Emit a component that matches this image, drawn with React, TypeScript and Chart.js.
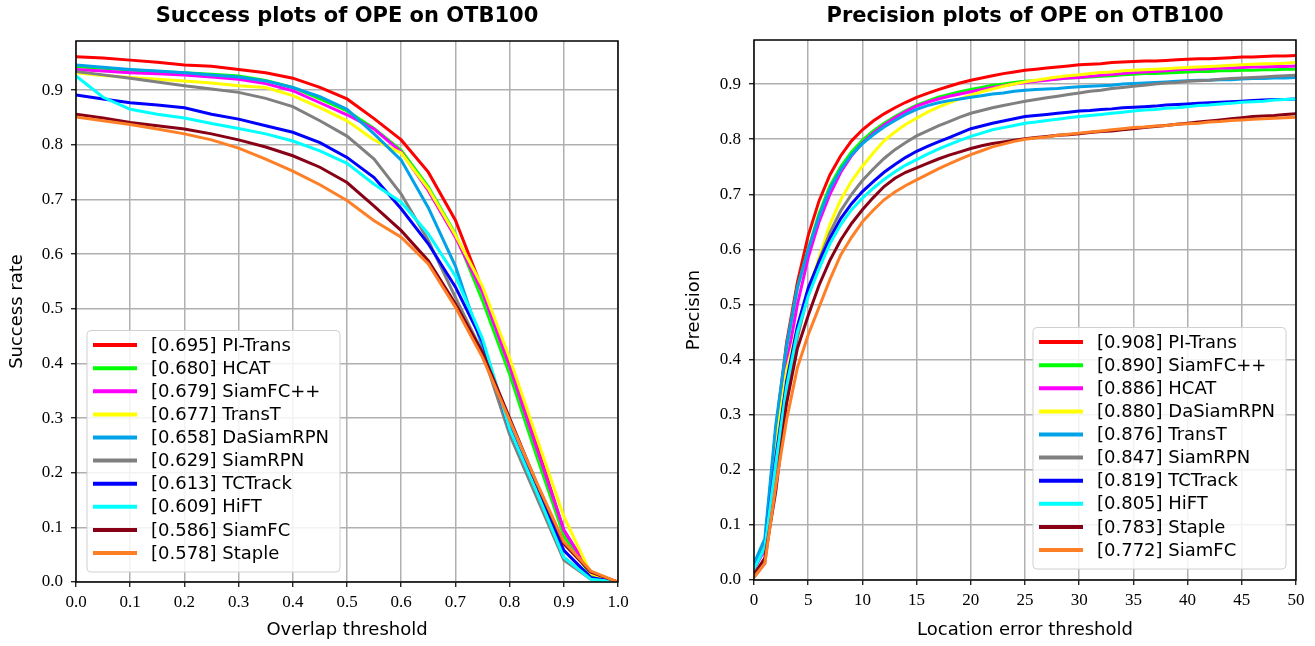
import React, { useEffect, useRef } from 'react';
import { Chart, registerables } from 'chart.js';

Chart.register(...registerables);

// ---------- shared ----------
const lineColors = ['#ff0000', '#00ff00', '#ff00ff', '#ffff00', '#00a2e8', '#808080', '#0000ff', '#00ffff', '#880015', '#ff7f27'];

// ---------- success plot ----------
const successThresholds = [0, 0.05, 0.1, 0.15, 0.2, 0.25, 0.3, 0.35, 0.4, 0.45, 0.5, 0.55, 0.6, 0.65, 0.7, 0.75, 0.8, 0.85, 0.9, 0.95, 1.0];
const successLabels = ['[0.695] PI-Trans', '[0.680] HCAT', '[0.679] SiamFC++', '[0.677] TransT', '[0.658] DaSiamRPN', '[0.629] SiamRPN', '[0.613] TCTrack', '[0.609] HiFT', '[0.586] SiamFC', '[0.578] Staple'];
const succPITrans = [0.961, 0.959, 0.955, 0.951, 0.946, 0.944, 0.938, 0.932, 0.922, 0.905, 0.884, 0.848, 0.809, 0.750, 0.662, 0.535, 0.400, 0.250, 0.095, 0.015, 0.0];
const succHCAT = [0.943, 0.940, 0.937, 0.934, 0.932, 0.929, 0.926, 0.918, 0.905, 0.884, 0.862, 0.830, 0.790, 0.723, 0.637, 0.515, 0.380, 0.230, 0.085, 0.012, 0.0];
const succSiamFCpp = [0.938, 0.935, 0.932, 0.930, 0.928, 0.924, 0.920, 0.912, 0.899, 0.877, 0.855, 0.829, 0.787, 0.716, 0.631, 0.530, 0.395, 0.245, 0.095, 0.015, 0.0];
const succTransT = [0.932, 0.927, 0.923, 0.920, 0.917, 0.913, 0.908, 0.905, 0.890, 0.868, 0.844, 0.809, 0.785, 0.720, 0.635, 0.541, 0.410, 0.264, 0.120, 0.015, 0.0];
const succDaSiamRPN = [0.946, 0.942, 0.938, 0.935, 0.932, 0.928, 0.924, 0.917, 0.905, 0.888, 0.865, 0.820, 0.772, 0.685, 0.578, 0.430, 0.285, 0.160, 0.045, 0.006, 0.0];
const succSiamRPN = [0.934, 0.928, 0.922, 0.915, 0.908, 0.902, 0.896, 0.885, 0.870, 0.844, 0.816, 0.774, 0.710, 0.625, 0.521, 0.420, 0.270, 0.155, 0.040, 0.005, 0.0];
const succTCTrack = [0.891, 0.884, 0.877, 0.873, 0.868, 0.856, 0.847, 0.835, 0.823, 0.804, 0.777, 0.740, 0.683, 0.619, 0.540, 0.440, 0.280, 0.170, 0.058, 0.008, 0.0];
const succHiFT = [0.926, 0.887, 0.865, 0.856, 0.849, 0.839, 0.830, 0.820, 0.807, 0.789, 0.766, 0.728, 0.695, 0.637, 0.560, 0.445, 0.280, 0.165, 0.045, 0.005, 0.0];
const succSiamFC = [0.856, 0.849, 0.841, 0.835, 0.829, 0.820, 0.809, 0.796, 0.780, 0.759, 0.731, 0.688, 0.643, 0.588, 0.509, 0.420, 0.300, 0.180, 0.070, 0.018, 0.0];
const succStaple = [0.851, 0.844, 0.837, 0.829, 0.820, 0.809, 0.794, 0.774, 0.752, 0.727, 0.698, 0.661, 0.631, 0.582, 0.503, 0.411, 0.296, 0.182, 0.074, 0.020, 0.0];

// ---------- precision plot ----------
const precisionThresholds = [0, 1, 2, 3, 4, 5, 6, 7, 8, 9, 10, 11, 12, 13, 14, 15, 16, 17, 18, 19, 20, 21, 22, 23, 24, 25, 26, 27, 28, 29, 30, 31, 32, 33, 34, 35, 36, 37, 38, 39, 40, 41, 42, 43, 44, 45, 46, 47, 48, 49, 50];
const precisionLabels = ['[0.908] PI-Trans', '[0.890] SiamFC++', '[0.886] HCAT', '[0.880] DaSiamRPN', '[0.876] TransT', '[0.847] SiamRPN', '[0.819] TCTrack', '[0.805] HiFT', '[0.783] Staple', '[0.772] SiamFC'];
const precPITrans = [0.025, 0.065, 0.27, 0.43, 0.54, 0.625, 0.688, 0.735, 0.77, 0.797, 0.817, 0.833, 0.846, 0.857, 0.867, 0.876, 0.883, 0.89, 0.896, 0.902, 0.907, 0.911, 0.915, 0.919, 0.922, 0.925, 0.927, 0.929, 0.931, 0.933, 0.935, 0.936, 0.937, 0.939, 0.940, 0.941, 0.942, 0.942, 0.943, 0.944, 0.945, 0.946, 0.946, 0.947, 0.948, 0.949, 0.949, 0.950, 0.951, 0.951, 0.952];
const precSiamFCpp = [0.025, 0.065, 0.27, 0.42, 0.53, 0.60, 0.665, 0.715, 0.75, 0.777, 0.798, 0.815, 0.829, 0.841, 0.852, 0.862, 0.869, 0.876, 0.881, 0.886, 0.890, 0.894, 0.898, 0.900, 0.903, 0.905, 0.906, 0.908, 0.909, 0.911, 0.912, 0.913, 0.914, 0.915, 0.917, 0.918, 0.919, 0.919, 0.920, 0.921, 0.922, 0.923, 0.923, 0.924, 0.924, 0.925, 0.925, 0.926, 0.926, 0.927, 0.927];
const precHCAT = [0.02, 0.055, 0.24, 0.39, 0.50, 0.585, 0.65, 0.70, 0.74, 0.77, 0.793, 0.811, 0.826, 0.839, 0.850, 0.860, 0.867, 0.873, 0.878, 0.882, 0.886, 0.890, 0.894, 0.897, 0.900, 0.903, 0.905, 0.907, 0.909, 0.911, 0.912, 0.914, 0.916, 0.918, 0.919, 0.921, 0.922, 0.923, 0.924, 0.926, 0.927, 0.927, 0.928, 0.929, 0.929, 0.930, 0.931, 0.931, 0.932, 0.932, 0.933];
const precDaSiamRPN = [0.02, 0.06, 0.25, 0.38, 0.46, 0.525, 0.585, 0.645, 0.69, 0.724, 0.751, 0.775, 0.797, 0.813, 0.827, 0.838, 0.849, 0.858, 0.866, 0.873, 0.880, 0.886, 0.891, 0.896, 0.900, 0.904, 0.907, 0.910, 0.913, 0.915, 0.917, 0.919, 0.921, 0.922, 0.924, 0.925, 0.926, 0.927, 0.928, 0.929, 0.930, 0.931, 0.932, 0.933, 0.934, 0.935, 0.936, 0.937, 0.937, 0.938, 0.939];
const precTransT = [0.03, 0.075, 0.28, 0.425, 0.53, 0.60, 0.66, 0.71, 0.745, 0.772, 0.792, 0.808, 0.822, 0.834, 0.845, 0.854, 0.861, 0.866, 0.870, 0.873, 0.876, 0.879, 0.882, 0.884, 0.887, 0.889, 0.890, 0.891, 0.892, 0.894, 0.895, 0.896, 0.897, 0.898, 0.900, 0.901, 0.902, 0.903, 0.904, 0.905, 0.906, 0.907, 0.907, 0.908, 0.908, 0.909, 0.910, 0.910, 0.911, 0.911, 0.912];
const precSiamRPN = [0.005, 0.03, 0.19, 0.33, 0.44, 0.52, 0.58, 0.63, 0.67, 0.70, 0.725, 0.746, 0.765, 0.781, 0.794, 0.806, 0.815, 0.824, 0.832, 0.840, 0.847, 0.852, 0.857, 0.861, 0.865, 0.869, 0.872, 0.875, 0.878, 0.881, 0.884, 0.887, 0.889, 0.892, 0.894, 0.896, 0.898, 0.900, 0.902, 0.903, 0.905, 0.906, 0.907, 0.909, 0.910, 0.911, 0.912, 0.913, 0.914, 0.915, 0.916];
const precTCTrack = [0.02, 0.06, 0.22, 0.36, 0.46, 0.53, 0.578, 0.62, 0.656, 0.683, 0.705, 0.723, 0.74, 0.754, 0.767, 0.778, 0.787, 0.795, 0.803, 0.811, 0.819, 0.824, 0.829, 0.833, 0.837, 0.841, 0.843, 0.845, 0.847, 0.849, 0.851, 0.852, 0.854, 0.855, 0.857, 0.858, 0.859, 0.860, 0.862, 0.863, 0.864, 0.865, 0.866, 0.867, 0.868, 0.869, 0.870, 0.871, 0.872, 0.872, 0.873];
const precHiFT = [0.02, 0.06, 0.21, 0.35, 0.45, 0.515, 0.565, 0.61, 0.645, 0.672, 0.693, 0.711, 0.727, 0.741, 0.753, 0.763, 0.773, 0.782, 0.790, 0.798, 0.805, 0.811, 0.817, 0.821, 0.825, 0.829, 0.831, 0.834, 0.836, 0.839, 0.841, 0.843, 0.845, 0.847, 0.849, 0.851, 0.853, 0.854, 0.856, 0.857, 0.859, 0.861, 0.862, 0.864, 0.865, 0.867, 0.868, 0.869, 0.871, 0.872, 0.873];
const precStaple = [0.01, 0.04, 0.16, 0.32, 0.42, 0.48, 0.535, 0.58, 0.617, 0.647, 0.672, 0.694, 0.714, 0.729, 0.740, 0.748, 0.756, 0.764, 0.771, 0.777, 0.783, 0.788, 0.792, 0.795, 0.798, 0.801, 0.803, 0.805, 0.807, 0.808, 0.810, 0.812, 0.814, 0.815, 0.817, 0.819, 0.821, 0.823, 0.825, 0.827, 0.829, 0.831, 0.833, 0.835, 0.837, 0.839, 0.841, 0.842, 0.843, 0.845, 0.846];
const precSiamFC = [0.005, 0.03, 0.17, 0.29, 0.385, 0.445, 0.495, 0.545, 0.59, 0.622, 0.65, 0.671, 0.69, 0.704, 0.716, 0.726, 0.736, 0.746, 0.755, 0.764, 0.772, 0.779, 0.786, 0.791, 0.796, 0.800, 0.802, 0.804, 0.807, 0.809, 0.811, 0.813, 0.815, 0.817, 0.819, 0.821, 0.822, 0.824, 0.825, 0.827, 0.828, 0.829, 0.831, 0.832, 0.834, 0.835, 0.836, 0.837, 0.838, 0.839, 0.840];

const successSeries = [succPITrans, succHCAT, succSiamFCpp, succTransT, succDaSiamRPN, succSiamRPN, succTCTrack, succHiFT, succSiamFC, succStaple];
const precisionSeries = [precPITrans, precSiamFCpp, precHCAT, precDaSiamRPN, precTransT, precSiamRPN, precTCTrack, precHiFT, precStaple, precSiamFC];

const SANS = '"DejaVu Sans", sans-serif';
const SERIF = '"Liberation Serif", serif';

const framePlugin = {
  id: 'frame',
  afterDatasetsDraw(chart: any) {
    const { ctx, chartArea: a } = chart;
    ctx.save();
    ctx.strokeStyle = '#000';
    ctx.lineWidth = 1.5;
    ctx.strokeRect(a.left, a.top, a.right - a.left, a.bottom - a.top);
    ctx.restore();
  },
};

const insideLegendPlugin = {
  id: 'insideLegend',
  afterDraw(chart: any, _args: any, opts: any) {
    const { ctx, chartArea } = chart;
    const ds = chart.data.datasets;
    ctx.save();
    ctx.font = `18px ${SANS}`;
    const textW = Math.max(...ds.map((d: any) => ctx.measureText(d.label).width));
    const rowH = 23.1;
    const padTop = 14.6;
    const padBottom = 19;
    const textOffset = 64;
    const boxW = textOffset + textW + 11;
    const boxH = padTop + rowH * (ds.length - 1) + padBottom;
    const x0 = opts.corner === 'left' ? chartArea.left + opts.margin : chartArea.right - opts.margin - boxW;
    const y0 = chartArea.bottom - opts.marginBottom - boxH;
    const r = 4;
    ctx.beginPath();
    ctx.moveTo(x0 + r, y0);
    ctx.lineTo(x0 + boxW - r, y0);
    ctx.arcTo(x0 + boxW, y0, x0 + boxW, y0 + r, r);
    ctx.lineTo(x0 + boxW, y0 + boxH - r);
    ctx.arcTo(x0 + boxW, y0 + boxH, x0 + boxW - r, y0 + boxH, r);
    ctx.lineTo(x0 + r, y0 + boxH);
    ctx.arcTo(x0, y0 + boxH, x0, y0 + boxH - r, r);
    ctx.lineTo(x0, y0 + r);
    ctx.arcTo(x0, y0, x0 + r, y0, r);
    ctx.closePath();
    ctx.fillStyle = 'rgba(255,255,255,0.85)';
    ctx.fill();
    ctx.strokeStyle = '#d0d0d0';
    ctx.lineWidth = 1;
    ctx.stroke();
    ds.forEach((d: any, i: number) => {
      const cy = y0 + padTop + i * rowH;
      ctx.beginPath();
      ctx.moveTo(x0 + 6, cy);
      ctx.lineTo(x0 + 50, cy);
      ctx.strokeStyle = d.borderColor;
      ctx.lineWidth = 4;
      ctx.stroke();
      ctx.fillStyle = '#000';
      ctx.textBaseline = 'middle';
      ctx.textAlign = 'left';
      ctx.fillText(d.label, x0 + textOffset, cy + 1);
    });
    ctx.restore();
  },
};

type PanelProps = {
  width: number;
  height: number;
  title: string;
  titleBottomPad: number;
  xTitle: string;
  yTitle: string;
  yTitlePad: number;
  xs: number[];
  series: number[][];
  labels: string[];
  xMax: number;
  xStep: number;
  xDecimals: number;
  yMax: number;
  yAxisWidth: number;
  xAxisHeight: number;
  padRight: number;
  legendCorner: 'left' | 'right';
  legendMargin: number;
  legendMarginBottom: number;
};

function Panel(p: PanelProps) {
  const ref = useRef<HTMLCanvasElement | null>(null);
  useEffect(() => {
    if (!ref.current) return;
    const n = p.series.length;
    const chart = new Chart(ref.current, {
      type: 'line',
      data: {
        datasets: p.series.map((s, i) => ({
          label: p.labels[i],
          data: p.xs.map((x, j) => ({ x, y: s[j] })),
          borderColor: lineColors[i],
          backgroundColor: lineColors[i],
          borderWidth: 3,
          pointRadius: 0,
          tension: 0,
          fill: false,
          order: n - 1 - i,
        })),
      },
      options: {
        animation: false,
        responsive: false,
        maintainAspectRatio: false,
        devicePixelRatio: 1,
        events: [],
        layout: { padding: { left: 0, right: p.padRight, top: 0, bottom: 0 } },
        plugins: {
          legend: { display: false },
          tooltip: { enabled: false },
          title: {
            display: true,
            text: p.title,
            fullSize: false,
            color: '#000',
            font: { family: SANS, size: 21, weight: 'bold', lineHeight: 1.2 },
            padding: { top: 4, bottom: p.titleBottomPad },
          },
          insideLegend: {
            corner: p.legendCorner,
            margin: p.legendMargin,
            marginBottom: p.legendMarginBottom,
          },
        } as any,
        scales: {
          x: {
            type: 'linear',
            min: 0,
            max: p.xMax,
            afterFit: (scale: any) => {
              scale.height = p.xAxisHeight;
            },
            ticks: {
              stepSize: p.xStep,
              autoSkip: false,
              maxRotation: 0,
              padding: 5,
              color: '#000',
              font: { family: SERIF, size: 17 },
              callback: (v: any) => Number(v).toFixed(p.xDecimals),
            },
            grid: {
              color: '#b0b0b0',
              lineWidth: 1.5,
              drawTicks: true,
              tickLength: 5,
              tickColor: '#000',
              tickWidth: 1.2,
            },
            border: { display: false },
            title: {
              display: true,
              text: p.xTitle,
              color: '#000',
              font: { family: SANS, size: 18, lineHeight: 1.2 },
              padding: { top: 0, bottom: 5 },
            },
          },
          y: {
            type: 'linear',
            min: 0,
            max: p.yMax,
            afterFit: (scale: any) => {
              scale.width = p.yAxisWidth;
            },
            ticks: {
              stepSize: 0.1,
              includeBounds: false,
              autoSkip: false,
              padding: 8,
              color: '#000',
              font: { family: SERIF, size: 17 },
              callback: (v: any) => Number(v).toFixed(1),
            },
            grid: {
              color: '#b0b0b0',
              lineWidth: 1.5,
              drawTicks: true,
              tickLength: 5,
              tickColor: '#000',
              tickWidth: 1.2,
            },
            border: { display: false },
            title: {
              display: true,
              text: p.yTitle,
              color: '#000',
              font: { family: SANS, size: 18, lineHeight: 1.2 },
              padding: { top: p.yTitlePad, bottom: 0 },
            },
          },
        },
      } as any,
      plugins: [framePlugin, insideLegendPlugin],
    });
    return () => chart.destroy();
  }, []);
  return <canvas ref={ref} width={p.width} height={p.height} style={{ display: 'block', width: p.width, height: p.height }} />;
}

export default function App() {
  return (
    <div style={{ position: 'fixed', left: 0, top: 0, width: 1315, height: 646, background: '#fff', display: 'flex' }}>
      <Panel
        width={657}
        height={646}
        title="Success plots of OPE on OTB100"
        titleBottomPad={11.8}
        xTitle="Overlap threshold"
        yTitle="Success rate"
        yTitlePad={7}
        xs={successThresholds}
        series={successSeries}
        labels={successLabels}
        xMax={1}
        xStep={0.1}
        xDecimals={1}
        yMax={0.99}
        yAxisWidth={76}
        xAxisHeight={64}
        padRight={39}
        legendCorner="left"
        legendMargin={11}
        legendMarginBottom={10}
      />
      <Panel
        width={658}
        height={646}
        title="Precision plots of OPE on OTB100"
        titleBottomPad={10.8}
        xTitle="Location error threshold"
        yTitle="Precision"
        yTitlePad={27}
        xs={precisionThresholds}
        series={precisionSeries}
        labels={precisionLabels}
        xMax={50}
        xStep={5}
        xDecimals={0}
        yMax={0.98}
        yAxisWidth={97}
        xAxisHeight={66}
        padRight={19}
        legendCorner="right"
        legendMargin={10}
        legendMarginBottom={11}
      />
    </div>
  );
}
